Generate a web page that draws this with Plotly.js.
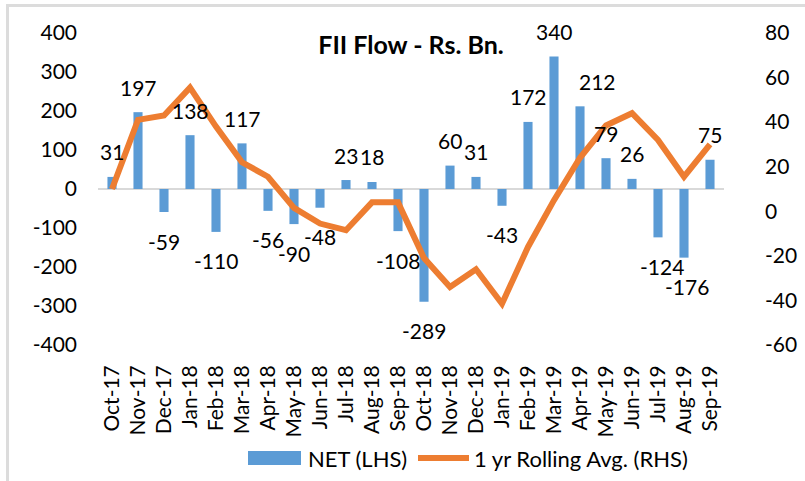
<!DOCTYPE html>
<html><head><meta charset="utf-8">
<script src="https://cdn.plot.ly/plotly-3.0.1.min.js"></script>
<style>
html,body{margin:0;padding:0;background:#fff;}
#chart{position:absolute;left:0;top:0;width:805px;height:481px;}
#frame{position:absolute;left:6px;top:4px;width:810px;height:490px;border:3px solid #dcdcdc;box-sizing:border-box;pointer-events:none;}
</style></head>
<body>
<div id="chart"></div>
<div id="frame"></div>
<script>
const months = ['Oct-17','Nov-17','Dec-17','Jan-18','Feb-18','Mar-18','Apr-18','May-18','Jun-18','Jul-18','Aug-18','Sep-18',
                'Oct-18','Nov-18','Dec-18','Jan-19','Feb-19','Mar-19','Apr-19','May-19','Jun-19','Jul-19','Aug-19','Sep-19'];
const netFlow = [31,197,-59,138,-110,117,-56,-90,-48,23,18,-108,-289,60,31,-43,172,340,212,79,26,-124,-176,75];
const rollingAvg = [10,41,43,55.5,38,22,15.5,1.5,-5.5,-8.5,4,4,-21,-34,-26,-41.5,-16,5,24,38.5,44,32,15.5,30];
const leftTicks = [-400,-300,-200,-100,0,100,200,300,400];
const rightTicks = [-60,-40,-20,0,20,40,60,80];
const seriesNames = ['NET (LHS)', '1 yr Rolling Avg. (RHS)'];

const labelNudgeX = {'Apr-19': 17, 'Jul-19': 4, 'Aug-19': 3};

const font = 'Lato, "Open Sans", sans-serif';
const BLUE = '#5B9BD5', ORANGE = '#ED7D31';

// plot-area geometry (px) used to place the hand-drawn legend
const M = {l: 98, r: 81, t: 33, b: 136};
const PW = 805 - M.l - M.r, PH = 481 - M.t - M.b;
const px = x => (x - M.l) / PW;
const py = y => (481 - M.b - y) / PH;

const annotations = months.map((m, i) => ({
  x: m, y: netFlow[i], xref: 'x', yref: 'y',
  text: String(netFlow[i]), showarrow: false,
  yshift: netFlow[i] >= 0 ? 25 : -29,
  xshift: labelNudgeX[m] || 0,
  font: {family: font, size: 21, color: '#000'}
}));
annotations.push(
  {xref: 'paper', yref: 'paper', x: px(306), y: py(458), xanchor: 'left', yanchor: 'middle', showarrow: false,
   text: seriesNames[0], font: {family: font, size: 22, color: '#000'}},
  {xref: 'paper', yref: 'paper', x: px(472), y: py(458), xanchor: 'left', yanchor: 'middle', showarrow: false,
   text: seriesNames[1], font: {family: font, size: 22, color: '#000'}}
);

const shapes = [
  {type: 'rect', xref: 'paper', yref: 'paper', x0: px(248), x1: px(301), y0: py(451), y1: py(465),
   fillcolor: BLUE, line: {width: 0}},
  {type: 'line', xref: 'paper', yref: 'paper', x0: px(418), x1: px(469), y0: py(458), y1: py(458),
   line: {color: ORANGE, width: 6}}
];

const traces = [
  {type: 'bar', name: seriesNames[0], x: months, y: netFlow, yaxis: 'y', marker: {color: BLUE}},
  {type: 'scatter', mode: 'lines', name: seriesNames[1], x: months, y: rollingAvg, yaxis: 'y2',
   line: {color: ORANGE, width: 6}}
];

const layout = {
  width: 805, height: 481,
  margin: M,
  paper_bgcolor: 'rgba(0,0,0,0)', plot_bgcolor: 'rgba(0,0,0,0)',
  font: {family: font, size: 21, color: '#000'},
  title: {text: '<b>FII Flow - Rs. Bn.</b>', font: {family: font, size: 25, color: '#000'},
          xref: 'paper', x: 0.5, xanchor: 'center', yref: 'container', y: 1 - 45/481, yanchor: 'middle'},
  bargap: 0.65,
  showlegend: false,
  xaxis: {type: 'category', tickangle: -90, showgrid: false, showline: false, ticks: '',
          tickfont: {family: font, size: 21, color: '#000'}, ticklabelstandoff: 15},
  yaxis: {range: [-400, 400], tickvals: leftTicks, ticktext: leftTicks.map(String),
          showgrid: false, zeroline: true, zerolinecolor: '#d9d9d9', zerolinewidth: 2,
          showline: false, ticks: '', tickfont: {family: font, size: 21, color: '#000'}, ticklabelstandoff: 20},
  yaxis2: {range: [-60, 80], tickvals: rightTicks, ticktext: rightTicks.map(String),
           overlaying: 'y', side: 'right', showgrid: false, zeroline: false,
           showline: false, ticks: '', tickfont: {family: font, size: 21, color: '#000'}, ticklabelstandoff: 40},
  annotations: annotations,
  shapes: shapes
};

Plotly.newPlot('chart', traces, layout, {displayModeBar: false, staticPlot: true});
</script>
</body></html>
